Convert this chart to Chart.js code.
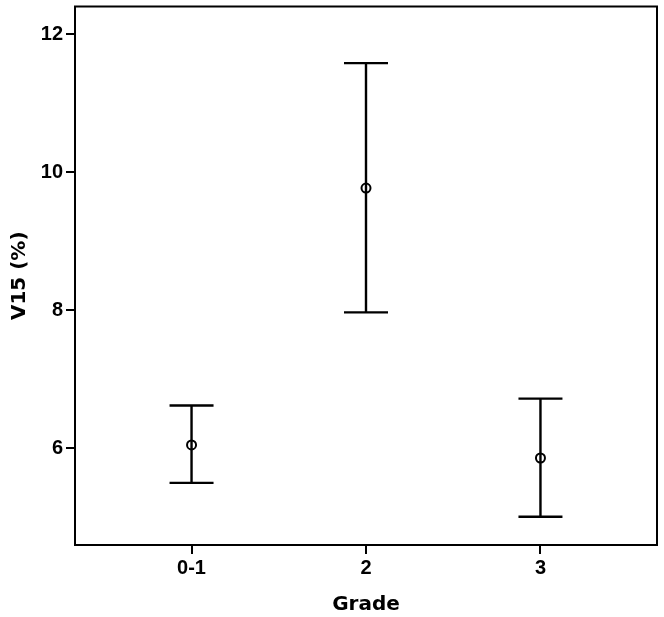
<!DOCTYPE html>
<html>
<head>
<meta charset="utf-8">
<script src="https://cdn.jsdelivr.net/npm/chart.js@4.4.1/dist/chart.umd.min.js"></script>
<style>
html,body{margin:0;padding:0;background:#fff;}
#wrap{width:664px;height:617px;}
</style>
</head>
<body>
<div id="wrap"><canvas id="c" width="664" height="617"></canvas></div>
<script>
const categories = ["0-1", "2", "3"];
const positions = [1, 2, 3];
const means = [6.05, 9.77, 5.86];
const lowers = [5.50, 7.97, 5.01];
const uppers = [6.62, 11.58, 6.72];
const yTicks = [6, 8, 10, 12];

const errorBars = {
  id: 'errorBars',
  afterDatasetsDraw(chart) {
    const {ctx, chartArea, scales: {x, y}} = chart;
    ctx.save();
    ctx.strokeStyle = '#000';
    ctx.lineWidth = 2.4;
    const capHalf = 22;
    positions.forEach((p, i) => {
      const px = x.getPixelForValue(p);
      const yl = y.getPixelForValue(lowers[i]);
      const yu = y.getPixelForValue(uppers[i]);
      ctx.beginPath();
      ctx.moveTo(px, yl); ctx.lineTo(px, yu);
      ctx.moveTo(px - capHalf, yu); ctx.lineTo(px + capHalf, yu);
      ctx.moveTo(px - capHalf, yl); ctx.lineTo(px + capHalf, yl);
      ctx.stroke();
    });
    ctx.lineWidth = 2;
    ctx.strokeRect(chartArea.left, chartArea.top, chartArea.right - chartArea.left, chartArea.bottom - chartArea.top);
    ctx.restore();
  }
};

new Chart(document.getElementById('c'), {
  type: 'scatter',
  data: {
    datasets: [{
      data: positions.map((p, i) => ({x: p, y: means[i]})),
      pointStyle: 'circle',
      pointRadius: 4.5,
      borderColor: '#000',
      borderWidth: 2,
      backgroundColor: 'rgba(255,255,255,0)',
      showLine: false
    }]
  },
  options: {
    responsive: false,
    animation: false,
    events: [],
    layout: {padding: {top: 4, right: 7, left: 0, bottom: 0}},
    plugins: {legend: {display: false}, tooltip: {enabled: false}},
    scales: {
      x: {
        type: 'linear',
        min: 0.332,
        max: 3.668,
        afterBuildTicks(s) { s.ticks = positions.map(v => ({value: v})); },
        afterFit(s) { s.height = 72; s.paddingLeft = 0; s.paddingRight = 0; },
        border: {display: false},
        grid: {drawOnChartArea: false, drawTicks: true, tickLength: 9, color: '#000', lineWidth: 2},
        ticks: {
          color: '#000',
          padding: 2,
          maxRotation: 0,
          font: {family: 'Liberation Sans', size: 20, weight: 'bold'},
          callback(v) { const i = positions.indexOf(v); return i >= 0 ? categories[i] : ''; }
        },
        title: {
          display: true, text: 'Grade', color: '#000',
          font: {family: 'DejaVu Sans', size: 20, weight: 'bold'},
          padding: {top: 0, bottom: 0}
        }
      },
      y: {
        min: 4.6,
        max: 12.4,
        afterBuildTicks(s) { s.ticks = yTicks.map(v => ({value: v})); },
        afterFit(s) { s.width = 75; s.paddingTop = 0; s.paddingBottom = 0; },
        border: {display: false},
        grid: {drawOnChartArea: false, drawTicks: true, tickLength: 9, color: '#000', lineWidth: 2},
        ticks: {
          color: '#000',
          padding: 3,
          font: {family: 'Liberation Sans', size: 20, weight: 'bold'}
        },
        title: {
          display: true, text: 'V15 (%)', color: '#000',
          font: {family: 'DejaVu Sans', size: 20, weight: 'bold'},
          padding: {top: 8, bottom: 0}
        }
      }
    }
  },
  plugins: [errorBars]
});
</script>
</body>
</html>
